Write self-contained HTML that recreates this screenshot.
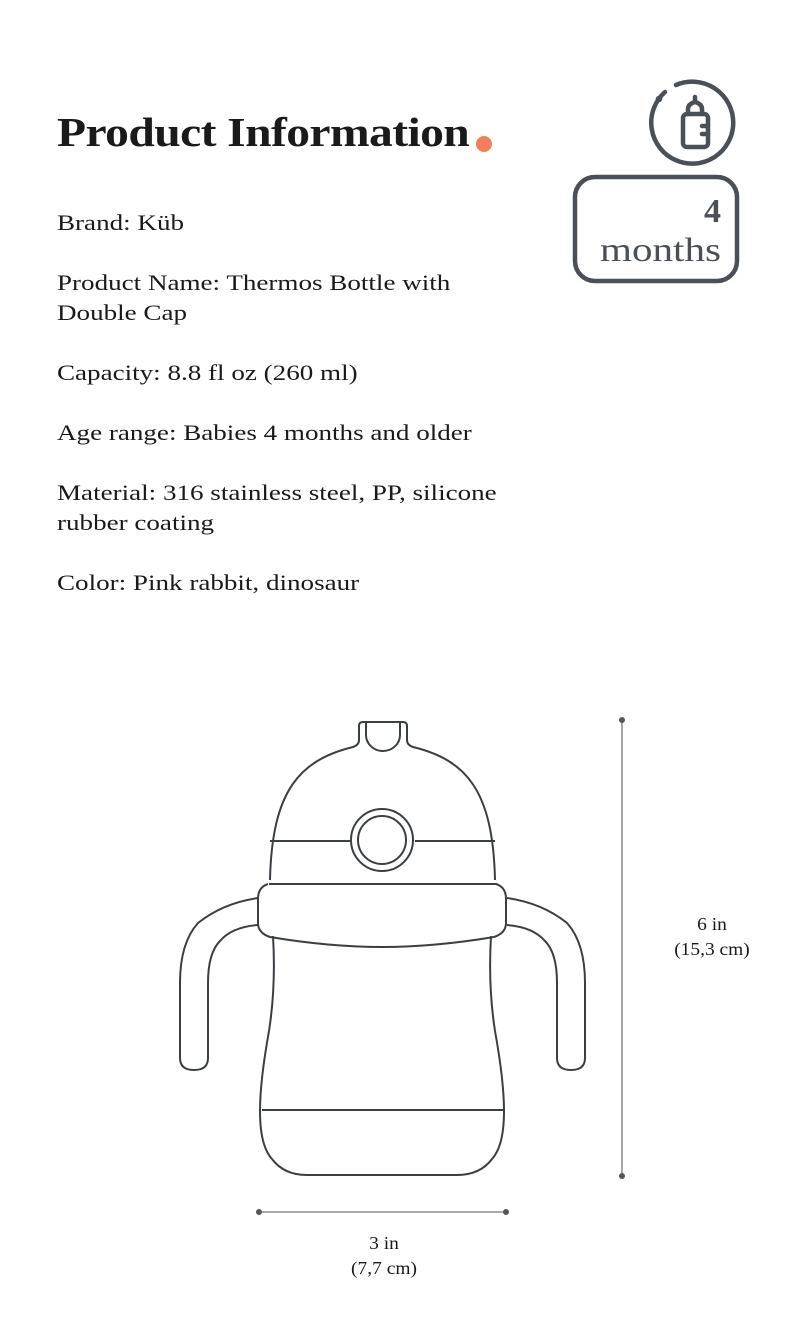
<!DOCTYPE html>
<html><head><style>
body{margin:0;width:800px;height:1326px;background:#fff;position:relative;font-family:"Liberation Serif",serif;color:#1a1a1a;overflow:hidden}
.t{position:absolute;left:57px;font-size:22px;line-height:30px;transform:scaleX(1.23);transform-origin:0 0;white-space:nowrap}
h1{position:absolute;left:57px;top:108px;margin:0;font-size:41px;font-weight:bold;letter-spacing:-0.5px;transform:scaleX(1.16);transform-origin:0 0;white-space:nowrap}
.dot{position:absolute;left:476px;top:136px;width:16px;height:16px;border-radius:50%;background:#f0805a}
.lab{position:absolute;font-size:18px;text-align:center;line-height:25px;transform:scaleX(1.08)}
</style></head><body>
<h1>Product Information</h1><span class="dot"></span>
<div class="t" style="top:208px">Brand: Küb</div>
<div class="t" style="top:268px">Product Name: Thermos Bottle with<br>Double Cap</div>
<div class="t" style="top:358px">Capacity: 8.8 fl oz (260 ml)</div>
<div class="t" style="top:418px">Age range: Babies 4 months and older</div>
<div class="t" style="top:478px">Material: 316 stainless steel, PP, silicone<br>rubber coating</div>
<div class="t" style="top:568px">Color: Pink rabbit, dinosaur</div>

<svg width="800" height="1326" style="position:absolute;left:0;top:0" fill="none">
<g stroke="#4a5055" stroke-width="4.5" stroke-linecap="round">
<path d="M665 92 A41 41 0 1 0 676 85"/>
<circle cx="659" cy="99" r="1" />
<rect x="683" y="114" width="25" height="33" rx="4"/>
<path d="M688 114 v-5 q0-5 7-7 q7 2 7 7 v5 M695 102 v-5"/>
<path d="M708 126 h-6 M708 134 h-6"/>
<rect x="575" y="177" width="162" height="104" rx="20"/>
</g>
<text x="721" y="222" font-family="Liberation Serif" font-weight="bold" font-size="34" fill="#4a5055" text-anchor="end">4</text>
<text x="600" y="261" textLength="121" lengthAdjust="spacingAndGlyphs" font-family="Liberation Serif" font-size="34" fill="#4a5055">months</text>

<g stroke="#3a3f44" stroke-width="2">
<path d="M359 740 v-14 q0 -4 4 -4 h40 q4 0 4 4 v14"/>
<path d="M366 723 v12 a17 16 0 0 0 34 0 v-12"/>
<path d="M359 740 q0 5 -6 7 C300 760 272 790 270 880"/>
<path d="M407 740 q0 5 6 7 C466 760 493 790 495 880"/>
<path d="M270 841 H350 M415 841 H495"/>
<path d="M269 884 H497"/>
<circle cx="382" cy="840" r="31"/>
<circle cx="382" cy="840" r="24"/>
<path d="M268 884 q-10 3 -10 15 v24 q0 10 12 14 q60 10 112 10 q52 0 112 -10 q12 -4 12 -14 v-24 q0 -12 -10 -15"/>
<path d="M273 936 q3 50 -4 95 q-9 50 -9 80 q0 35 12 48 q12 16 35 16 h150 q23 0 35 -16 q12 -13 12 -48 q0 -30 -9 -80 q-7 -45 -4 -95"/>
<path d="M262 1110 H503"/>
<path d="M258 898 q-35 5 -60 25 q-18 20 -18 60 v75 q0 12 14 12 q14 0 14 -12 v-75 q0 -30 12 -42 q12 -14 38 -16"/>
<path d="M507 898 q35 5 60 25 q18 20 18 60 v75 q0 12 -14 12 q-14 0 -14 -12 v-75 q0 -30 -12 -42 q-12 -14 -38 -16"/>
</g>
<g stroke="#777" stroke-width="1.3">
<path d="M622 720 V1176 M259 1212 H506"/>
</g>
<g fill="#555"><circle cx="622" cy="720" r="3"/><circle cx="622" cy="1176" r="3"/><circle cx="259" cy="1212" r="3"/><circle cx="506" cy="1212" r="3"/></g>
</svg>
<div class="lab" style="left:662px;top:912px;width:100px">6 in<br>(15,3 cm)</div>
<div class="lab" style="left:334px;top:1231px;width:100px">3 in<br>(7,7 cm)</div>
</body></html>
